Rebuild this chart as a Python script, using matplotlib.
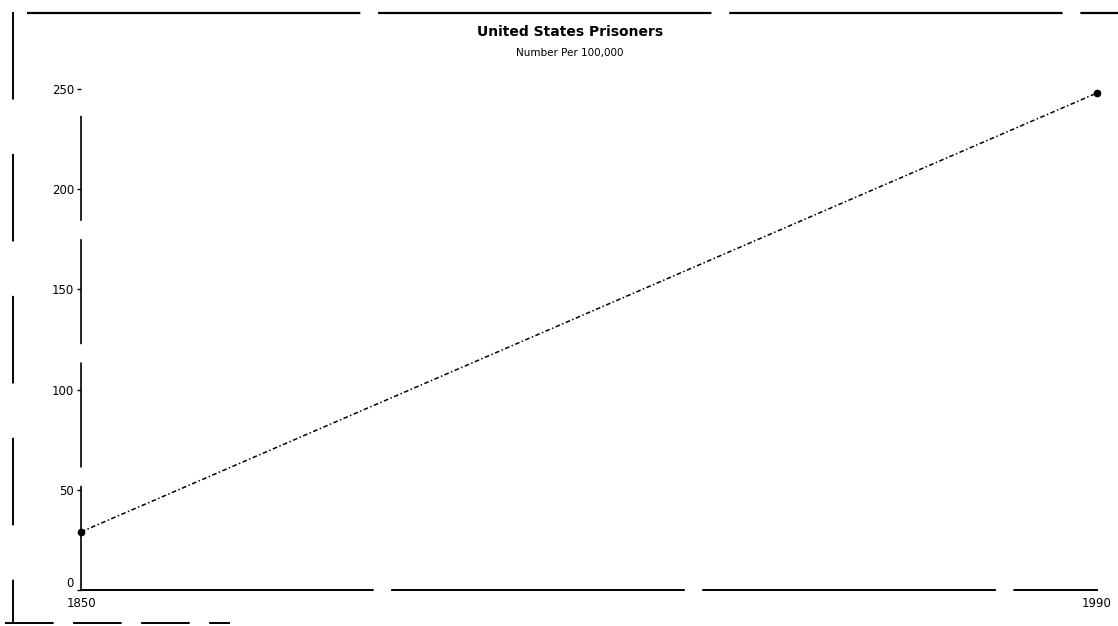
import matplotlib
matplotlib.use("Agg")
import matplotlib.pyplot as plt
from matplotlib.lines import Line2D

# Data
years = [1850, 1990]
rate_per_100k = [29, 248]
y_ticks = [0, 50, 100, 150, 200, 250]
x_ticks = [1850, 1990]
x_tick_labels = ["1850", "1990"]
title = "United States Prisoners"
subtitle = "Number Per 100,000"

W, H = 1118, 626
fig = plt.figure(figsize=(W / 100, H / 100), dpi=100)
fig.patch.set_facecolor("white")

left_px, right_px, bottom_px, top_px = 81, 1097, 590, 89
ax = fig.add_axes([left_px / W, 1 - bottom_px / H,
                   (right_px - left_px) / W, (bottom_px - top_px) / H])

ax.plot(years, rate_per_100k, color="black", lw=1.1,
        linestyle=(0, (3, 1.6, 1, 1.6)), marker="o", markersize=4.5,
        markerfacecolor="black", markeredgecolor="black", clip_on=False)

ax.set_xlim(1850, 1990)
ax.set_ylim(0, 250)
ax.set_yticks(y_ticks)
ax.set_yticklabels([str(v) for v in y_ticks])
ax.set_xticks(x_ticks)
ax.set_xticklabels(x_tick_labels)

for s in ["top", "right"]:
    ax.spines[s].set_visible(False)
ax.spines["left"].set_bounds(0, 237)
ax.spines["left"].set_linewidth(1.2)
ax.spines["left"].set_linestyle((0, (62, 12)))
ax.spines["bottom"].set_linewidth(1.4)
ax.spines["bottom"].set_linestyle((0, (150, 10)))

ax.tick_params(axis="y", direction="out", length=3, width=1, pad=2,
               labelsize=8.5, colors="black")
ax.tick_params(axis="x", direction="out", length=0, pad=5,
               labelsize=8.5, colors="black")

# lift the "0" label so it sits just above the "1850" label
ax.get_yticklabels()[0].set_verticalalignment("bottom")

fig.text(570 / W, 1 - 32 / H, title, ha="center", va="center",
         fontsize=10, fontweight="bold", family="DejaVu Sans")
fig.text(570 / W, 1 - 53 / H, subtitle, ha="center", va="center",
         fontsize=7.5, family="DejaVu Sans")

# scanned outer frame remnants
frame_top = Line2D([27 / W, 1.0], [1 - 13 / H, 1 - 13 / H], transform=fig.transFigure,
                   color="black", lw=1.6, linestyle=(0, (150, 8)))
frame_left = Line2D([13 / W, 13 / W], [1 - 12 / H, 1 - 623 / H], transform=fig.transFigure,
                    color="black", lw=1.4, linestyle=(0, (45, 28)))
frame_bottom = Line2D([5 / W, 230 / W], [1 - 623 / H, 1 - 623 / H], transform=fig.transFigure,
                      color="black", lw=1.4, linestyle=(0, (25, 10)))
fig.add_artist(frame_top)
fig.add_artist(frame_left)
fig.add_artist(frame_bottom)

fig.savefig("out.png", dpi=100, facecolor="white")
